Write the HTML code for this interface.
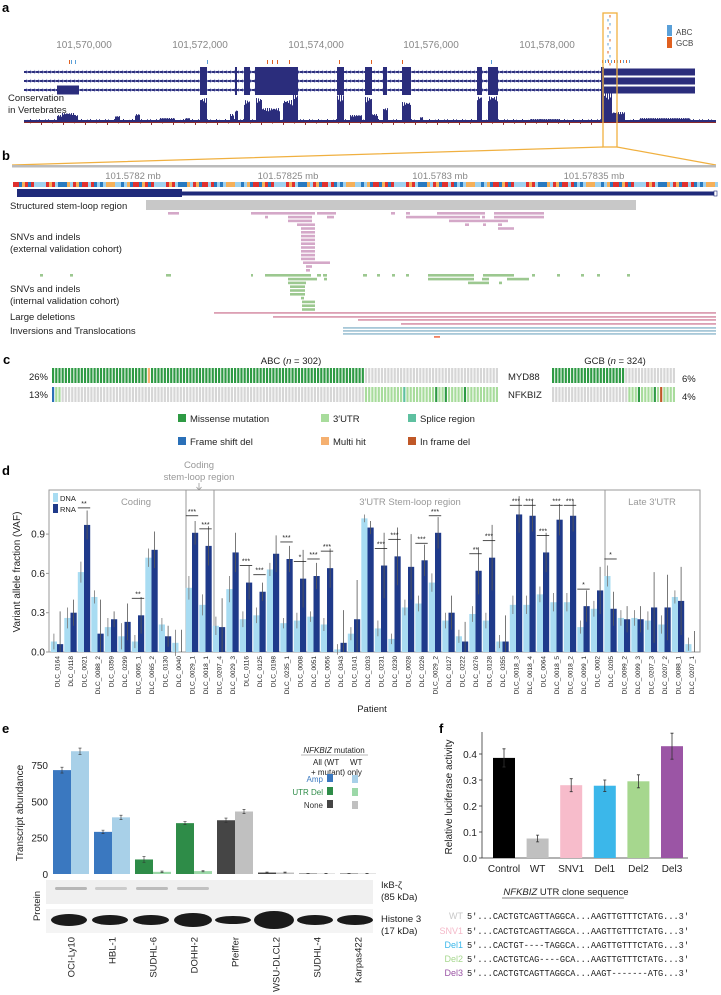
<!DOCTYPE html>
<html><head><meta charset="utf-8">
<style>
html,body{margin:0;padding:0;background:#fff;}
svg{display:block;font-family:"Liberation Sans",sans-serif;}
</style></head>
<body>
<svg id="fig" width="721" height="995" viewBox="0 0 721 995" xmlns="http://www.w3.org/2000/svg">
<text x="2" y="12" font-size="13" font-weight="bold">a</text>
<text x="2" y="160" font-size="13" font-weight="bold">b</text>
<text x="3" y="364" font-size="13" font-weight="bold">c</text>
<text x="2" y="475" font-size="13" font-weight="bold">d</text>
<text x="2" y="733" font-size="13" font-weight="bold">e</text>
<text x="439" y="733" font-size="13" font-weight="bold">f</text>

<g id="pa"></g>
<g id="pb"></g>
<g id="pc"></g>
<g id="pd"></g>
<g id="pe"></g>
<g id="pf"></g>
</svg>
<script>
// ===== Panel d data =====
const dPatients = ["DLC_0164","DLC_0118","DLC_0021","DLC_0088_2","DLC_0359","DLC_0299","DLC_0065_1","DLC_0065_2","DLC_0130","DLC_0040","DLC_0029_1","DLC_0018_1","DLC_0207_4","DLC_0029_3","DLC_0116","DLC_0125","DLC_0198","DLC_0235_1","DLC_0008","DLC_0051","DLC_0056","DLC_0343","DLC_0141","DLC_0203","DLC_0231","DLC_0230","DLC_0028","DLC_0226","DLC_0029_2","DLC_0127","DLC_0222","DLC_0276","DLC_0128","DLC_0355","DLC_0018_3","DLC_0018_4","DLC_0064","DLC_0018_5","DLC_0018_2","DLC_0099_1","DLC_0002","DLC_0205","DLC_0099_2","DLC_0099_3","DLC_0207_3","DLC_0207_2","DLC_0088_1","DLC_0207_1"];
const dDNA = [0.08,0.26,0.61,0.42,0.19,0.12,0.08,0.72,0.21,0.07,0.49,0.36,0.20,0.48,0.25,0.28,0.63,0.22,0.24,0.27,0.21,0.02,0.14,1.02,0.18,0.10,0.34,0.37,0.53,0.24,0.12,0.29,0.24,0.08,0.36,0.36,0.44,0.38,0.38,0.19,0.33,0.58,0.26,0.26,0.24,0.21,0.42,0.06];
const dRNA = [0.06,0.30,0.97,0.14,0.25,0.23,0.28,0.78,0.12,0.00,0.91,0.81,0.19,0.76,0.53,0.46,0.75,0.71,0.56,0.58,0.64,0.07,0.25,0.95,0.66,0.73,0.65,0.70,0.91,0.30,0.08,0.62,0.72,0.08,1.05,1.04,0.76,1.01,1.04,0.35,0.47,0.33,0.25,0.25,0.34,0.34,0.39,0.00];
const dDNAerr = [0.06,0.08,0.08,0.05,0.07,0.1,0.05,0.07,0.05,0.1,0.09,0.08,0.07,0.1,0.06,0.06,0.05,0.04,0.06,0.04,0.05,0.04,0.05,0.03,0.06,0.04,0.06,0.06,0.07,0.06,0.05,0.06,0.06,0.05,0.07,0.07,0.06,0.07,0.07,0.05,0.06,0.08,0.06,0.06,0.07,0.07,0.05,0.05];
const dRNAerr = [0.25,0.1,0.11,0.26,0.06,0.14,0.14,0.14,0.08,0.17,0.09,0.15,0.22,0.15,0.13,0.07,0.14,0.1,0.22,0.1,0.15,0.25,0.3,0.05,0.25,0.22,0.25,0.12,0.12,0.13,0.15,0.18,0.25,0.2,0.14,0.12,0.15,0.12,0.12,0.12,0.18,0.13,0.1,0.1,0.27,0.25,0.26,0.16];
const dSigIdx = [2,6,10,11,14,15,17,18,19,20,24,25,27,28,31,32,34,35,36,37,38,39,41];
const dSigLbl = ["**","**","***","***","***","***","***","*","***","***","***","***","***","***","**","***","***","***","***","***","***","*","*"];
const dTicks = [0,0.3,0.6,0.9];
// ===== Panel e data =====
const eLines = ["OCI-Ly10","HBL-1","SUDHL-6","DOHH-2","Pfeiffer","WSU-DLCL2","SUDHL-4","Karpas422"];
const eAll = [715,290,100,350,370,10,3,3];
const eWT = [845,390,15,20,430,10,3,3];
const eAllErr = [20,12,20,10,15,3,1,1];
const eWTErr = [22,15,5,5,15,3,1,1];
const eType = ["amp","amp","del","del","none","none","none","none"];
const eTicks = [0,250,500,750];
// ===== Panel f data =====
const fCats = ["Control","WT","SNV1","Del1","Del2","Del3"];
const fVals = [0.385,0.075,0.28,0.278,0.295,0.43];
const fErr = [0.035,0.013,0.025,0.022,0.025,0.05];
const fTicks = [0,0.1,0.2,0.3,0.4];
// ===== Panel c data =====
const cAbcN = 140, cGcbN = 39;
const cMydAbcMiss = 98, cMydAbcMulti = [30];
const cMydGcbMiss = 23;
const cNfkAbcUtrStart = 98, cNfkAbcMiss = [120,123,129], cNfkAbcSplice=[110], cNfkAbcFs=[0], cNfkAbcUtrLow=[1,2];
const cNfkGcbUtrStart = 24, cNfkGcbMiss=[27,32], cNfkGcbIfd=[34];

const NS="http://www.w3.org/2000/svg";
function mk(parent,tag,attrs,txt){const e=document.createElementNS(NS,tag);for(const k in attrs)e.setAttribute(k,attrs[k]);if(txt!==undefined)e.textContent=txt;parent.appendChild(e);return e;}

// ================= Panel A =================
(function(){
const g=document.getElementById('pa');
const tl=["101,570,000","101,572,000","101,574,000","101,576,000","101,578,000"];
const tx=[84,200,316,431,547];
tl.forEach((t,i)=>{const e=mk(g,'text',{x:tx[i],y:48,'font-size':10,fill:'#888','text-anchor':'middle'},t);

});
const ex=[[200,207],[235,237],[244,250],[255,298],[337,344],[365,372],[383,387],[402,411],[477,482],[488,498],[601,604]];
[72,81,90].forEach((y,t)=>{
 const ln=mk(g,'rect',{x:24,y:y-1,width:580,height:2,fill:'#2b2d7c'});
 
 
 for(let x=26;x<600;x+=4){mk(g,'path',{d:`M${x} ${y-2}l2 2l-2 2`,stroke:'#9aa0d0','stroke-width':0.6,fill:'none'});}
 ex.forEach(e=>{const r=mk(g,'rect',{x:e[0],y:y-5,width:e[1]-e[0],height:10,fill:'#2b2d7c'});
 
 });
 mk(g,'rect',{x:604,y:y-3.5,width:91,height:7,fill:'#2b2d7c'});
 if(t===2) mk(g,'rect',{x:57,y:y-4.5,width:22,height:9,fill:'#2b2d7c'});
});
[[69,'#e06020'],[71,'#5aa0d8'],[75,'#5aa0d8'],[207,'#5aa0d8'],[267,'#e06020'],[272,'#e06020'],[277,'#e06020'],[289,'#e06020'],[339,'#e06020'],[371,'#e06020'],[402,'#e06020'],[491,'#5aa0d8']].forEach(m=>mk(g,'rect',{x:m[0],y:60,width:1,height:4,fill:m[1]}));
for(let y=15;y<64;y+=4){mk(g,'rect',{x:606+(y%8)/2,y:y,width:1,height:2.5,fill:(y%12<4)?'#e06020':'#5aa0d8'});}
for(let x=602;x<630;x+=3){mk(g,'rect',{x:x,y:60,width:1,height:3,fill:x%2?'#5aa0d8':'#e06020'});}
let r=mk(g,'rect',{x:667,y:25,width:5,height:11,fill:'#5aa0d8'});

mk(g,'text',{x:676,y:35,'font-size':8,fill:'#444'},'ABC');
r=mk(g,'rect',{x:667,y:37,width:5,height:11,fill:'#e06020'});

mk(g,'text',{x:676,y:46,'font-size':8,fill:'#444'},'GCB');
let t=mk(g,'text',{x:8,y:101,'font-size':9.5,fill:'#222'},'Conservation');

mk(g,'text',{x:8,y:113,'font-size':9.5,fill:'#222'},'in Vertebrates');
const peaks=[[57,78,7],[62,75,9],[185,190,4],[200,207,24],[235,238,12],[244,250,22],[256,262,24],[262,280,14],[283,293,22],[293,298,28],[337,344,27],[350,362,7],[365,372,25],[372,378,8],[383,388,14],[402,411,20],[420,423,5],[477,482,26],[488,498,26],[601,612,30],[612,625,10],[115,120,6],[135,140,8],[160,175,4],[230,234,8],[530,560,3],[640,690,4]];
mk(g,'rect',{x:24,y:120,width:692,height:2,fill:'#2b2d7c'});
mk(g,'rect',{x:24,y:122,width:692,height:1,fill:'#8b2a2a'});
peaks.forEach(p=>{for(let x=p[0];x<p[1];x+=1){const h=p[2]*(0.75+0.25*Math.abs(Math.sin(x*1.7)));
 mk(g,'rect',{x:x,y:122-h,width:1,height:h,fill:'#2b2d7c'});}});
for(let x=24;x<716;x+=3){const h=1+2*Math.abs(Math.sin(x*0.37));mk(g,'rect',{x:x,y:122-h,width:1,height:h,fill:'#2b2d7c'});}
for(let x=30;x<600;x+=11){mk(g,'rect',{x:x,y:122,width:1,height:1+2*Math.abs(Math.cos(x)),fill:'#8b2a2a'});}
r=mk(g,'rect',{x:603,y:13,width:14,height:134,fill:'none',stroke:'#f0b040','stroke-width':1.3});

mk(g,'path',{d:'M603 147L12 165M617 147L716 165',stroke:'#f0b040','stroke-width':1.2,fill:'none'});
})();

// ================= Panel B =================
(function(){
const g=document.getElementById('pb');
mk(g,'rect',{x:12,y:165,width:704,height:2.5,fill:'#bbb'});
const tl=["101.5782 mb","101.57825 mb","101.5783 mb","101.57835 mb"],tx=[133,288,440,594];
tl.forEach((t,i)=>{const e=mk(g,'text',{x:tx[i],y:179,'font-size':9.5,fill:'#888','text-anchor':'middle'},t);
});
const cols=['#e0312f','#2a7ac0','#f5b05a','#9fd2ef'];
for(let i=0;i<235;i++){const c=cols[(i*7+((i*i)>>2)+(i%5))%4];mk(g,'rect',{x:13+i*3,y:182,width:3,height:5,fill:c});}
mk(g,'rect',{x:17,y:189,width:165,height:8,fill:'#1f2a7a'});
mk(g,'rect',{x:182,y:191.5,width:532,height:4,fill:'#1f2a7a'});
mk(g,'rect',{x:714,y:191,width:3,height:5,fill:'#fff',stroke:'#1f2a7a','stroke-width':0.6});
let t=mk(g,'text',{x:10,y:209,'font-size':9.5,fill:'#222'},'Structured stem-loop region');

let r=mk(g,'rect',{x:146,y:200,width:490,height:10,fill:'#c8c8c8'});

const pink=[[168,179,0],[251,315,0],[317,336,0],[391,395,0],[406,410,0],[437,485,0],[494,544,0],[265,268,1],[288,312,1],[327,334,1],[406,480,1],[482,485,1],[494,544,1],[288,312,2],[449,508,2],[297,315,3],[465,469,3],[483,486,3],[498,502,3],[301,315,4],[498,514,4],[301,315,5],[301,315,6],[301,315,7],[301,315,8],[301,315,9],[301,315,10],[301,315,11],[301,315,12],[303,330,13],[306,312,14],[306,310,15]];
pink.forEach(p=>{const e=mk(g,'rect',{x:p[0],y:212+p[2]*3.8,width:p[1]-p[0],height:2.6,fill:'#d4a8c8'});
});
const green=[[40,43,0],[70,73,0],[166,171,0],[251,253,0],[265,311,0],[317,321,0],[323,327,0],[363,367,0],[377,380,0],[392,395,0],[406,409,0],[428,474,0],[483,514,0],[532,535,0],[557,560,0],[581,584,0],[597,600,0],[627,630,0],[288,317,1],[324,327,1],[428,474,1],[482,489,1],[507,529,1],[288,306,2],[468,489,2],[499,502,2],[290,305,3],[290,305,4],[290,305,5],[301,304,6],[302,315,7],[302,315,8],[302,315,9]];
green.forEach(p=>{const e=mk(g,'rect',{x:p[0],y:274+p[2]*3.8,width:p[1]-p[0],height:2.6,fill:'#9cc890'});
});
[['SNVs and indels',240],['(external validation cohort)',252],['SNVs and indels',292],['(internal validation cohort)',304],['Large deletions',320],['Inversions and Translocations',334]].forEach(l=>{
 const e=mk(g,'text',{x:10,y:l[1],'font-size':9.5,fill:'#222'},l[0]);
 });
[[214,312],[273,316],[358,319],[401,323]].forEach(d=>{const e=mk(g,'rect',{x:d[0],y:d[1],width:716-d[0],height:1.8,fill:'#dca0b4'});
});
[[343,327],[343,330],[343,333]].forEach(d=>{const e=mk(g,'rect',{x:d[0],y:d[1],width:716-d[0],height:1.8,fill:'#a8c8d8'});
});
mk(g,'rect',{x:434,y:336,width:6,height:1.8,fill:'#f08060'});
})();

// ================= Panel C =================
(function(){
const g=document.getElementById('pc');
const gray='#d6d6d6',miss='#2e9a44',utr='#a8dc9c',spl='#5ec0a0',fs='#2a70b8',mh='#f5b070',ifd='#c05828';
let t=mk(g,'text',{x:291,y:364,'font-size':9.5,fill:'#222','text-anchor':'middle'});
t.innerHTML='ABC (<tspan font-style="italic">n</tspan> = 302)';

t=mk(g,'text',{x:615,y:364,'font-size':9.5,fill:'#222','text-anchor':'middle'});
t.innerHTML='GCB (<tspan font-style="italic">n</tspan> = 324)';

function row(x0,w,n,y,h,colorFn){const s=w/n;for(let i=0;i<n;i++){mk(g,'rect',{x:x0+i*s,y:y,width:Math.max(s-1,1),height:h,fill:colorFn(i)});}}
row(52,447,cAbcN,368,15,i=>cMydAbcMulti.includes(i)?mh:(i<cMydAbcMiss?miss:gray));
row(552,124,cGcbN,368,15,i=>i<cMydGcbMiss?miss:gray);
row(52,447,cAbcN,387,15,i=>cNfkAbcFs.includes(i)?fs:cNfkAbcMiss.includes(i)?miss:cNfkAbcSplice.includes(i)?spl:(cNfkAbcUtrLow.includes(i)||i>=cNfkAbcUtrStart)?utr:gray);
row(552,124,cGcbN,387,15,i=>cNfkGcbMiss.includes(i)?miss:cNfkGcbIfd.includes(i)?ifd:i>=cNfkGcbUtrStart?utr:gray);
[['26%',48,380,'end'],['13%',48,398,'end'],['MYD88',508,380,'start'],['NFKBIZ',508,398,'start'],['6%',682,382,'start'],['4%',682,400,'start']].forEach(l=>{
 const e=mk(g,'text',{x:l[1],y:l[2],'font-size':9.5,fill:'#222','text-anchor':l[3]},l[0]);
 });
[['Missense mutation',178,414,miss],['3′UTR',321,414,utr],['Splice region',408,414,spl],['Frame shift del',178,437,fs],['Multi hit',321,437,mh],['In frame del',408,437,ifd]].forEach(l=>{
 const r=mk(g,'rect',{x:l[1],y:l[2],width:8,height:8,fill:l[3]});
 
 const e=mk(g,'text',{x:l[1]+12,y:l[2]+8,'font-size':9.5,fill:'#222'},l[0]);
 });
})();

// ================= Panel D =================
(function(){
const g=document.getElementById('pd');
const y0=652, pxPer=131, x0=57, step=13.5, bw=6.2;
const Y=v=>y0-v*pxPer, X=i=>x0+i*step;
mk(g,'rect',{x:49,y:490,width:651,height:162,fill:'none',stroke:'#999','stroke-width':1});
[186,214,605].forEach(x=>mk(g,'line',{x1:x,y1:490,x2:x,y2:652,stroke:'#999','stroke-width':1}));
const lab=[['Coding',136,505],['3′UTR Stem-loop region',410,505],['Late 3′UTR',652,505]];
lab.forEach(l=>{const e=mk(g,'text',{x:l[1],y:l[2],'font-size':9.5,fill:'#999','text-anchor':'middle'},l[0]);
});
let t=mk(g,'text',{x:199,y:468,'font-size':9.5,fill:'#999','text-anchor':'middle'},'Coding');

mk(g,'text',{x:199,y:480,'font-size':9.5,fill:'#999','text-anchor':'middle'},'stem-loop region');
mk(g,'path',{d:'M199 483V490M196.5 487L199 490L201.5 487',stroke:'#999','stroke-width':0.8,fill:'none'});
dTicks.forEach(v=>{const e=mk(g,'text',{x:45,y:Y(v)+3.5,'font-size':10,fill:'#222','text-anchor':'end'},v.toFixed(1));

mk(g,'line',{x1:46,y1:Y(v),x2:49,y2:Y(v),stroke:'#999'});});
t=mk(g,'text',{x:0,y:0,'font-size':10,fill:'#222','text-anchor':'middle',transform:'translate(20,572) rotate(-90)'},'Variant allele fraction (VAF)');

dPatients.forEach((p,i)=>{
 const cx=X(i);
 const v1=Math.max(0,dDNA[i]), v2=Math.max(0,dRNA[i]);
 let b=mk(g,'rect',{x:cx-bw,y:Y(v1),width:bw,height:v1*pxPer,fill:'#a8dcf2'});
 
 b=mk(g,'rect',{x:cx,y:Y(v2),width:bw,height:v2*pxPer,fill:'#1f3a8a'});
 
 mk(g,'line',{x1:cx-bw/2,y1:Y(v1-dDNAerr[i]),x2:cx-bw/2,y2:Y(v1+dDNAerr[i]),stroke:'#777','stroke-width':0.8});
 mk(g,'line',{x1:cx+bw/2,y1:Y(Math.max(0,v2-dRNAerr[i])),x2:cx+bw/2,y2:Y(v2+dRNAerr[i]),stroke:'#555','stroke-width':0.8});
 const e=mk(g,'text',{x:0,y:0,'font-size':6.5,fill:'#222','text-anchor':'end',transform:`translate(${cx+2.3},656) rotate(-90)`},p);
 
});
dSigIdx.forEach((i,k)=>{
 const top=Math.min(Math.max(dDNA[i],dRNA[i])+0.13,1.12);
 const cx=X(i);
 const br=mk(g,'line',{x1:cx-bw,y1:Y(top),x2:cx+bw,y2:Y(top),stroke:'#222','stroke-width':0.8});
 
 mk(g,'text',{x:cx,y:Y(top)-2,'font-size':7,fill:'#222','text-anchor':'middle'},dSigLbl[k]);
});
let r=mk(g,'rect',{x:53,y:493,width:5,height:9,fill:'#a8dcf2'});

mk(g,'text',{x:60,y:501,'font-size':7.5,fill:'#222'},'DNA');
r=mk(g,'rect',{x:53,y:504,width:5,height:9,fill:'#1f3a8a'});

mk(g,'text',{x:60,y:512,'font-size':7.5,fill:'#222'},'RNA');
t=mk(g,'text',{x:372,y:712,'font-size':9.5,fill:'#222','text-anchor':'middle'},'Patient');

})();

// ================= Panel E =================
(function(){
const g=document.getElementById('pe');
const y0=874, pxPer=0.1453, gx0=53, gstep=41, bw=18;
const Y=v=>y0-v*pxPer;
const colAll={amp:'#3a78c0',del:'#2e8c48',none:'#454545'}, colWT={amp:'#a8d0e8',del:'#9cd8a8',none:'#c0c0c0'};
eTicks.forEach(v=>{const e=mk(g,'text',{x:48,y:Y(v)+4,'font-size':10,fill:'#222','text-anchor':'end'},String(v));
});
let t=mk(g,'text',{x:0,y:0,'font-size':10,fill:'#222','text-anchor':'middle',transform:'translate(23,813) rotate(-90)'},'Transcript abundance');

eLines.forEach((c,i)=>{
 const x=gx0+i*gstep;
 let b=mk(g,'rect',{x:x,y:Y(eAll[i]),width:bw,height:eAll[i]*pxPer,fill:colAll[eType[i]]});
 
 b=mk(g,'rect',{x:x+bw,y:Y(eWT[i]),width:bw,height:eWT[i]*pxPer,fill:colWT[eType[i]]});
 
 [[x+bw/2,eAll[i],eAllErr[i]],[x+bw*1.5,eWT[i],eWTErr[i]]].forEach(q=>{
  mk(g,'path',{d:`M${q[0]} ${Y(q[1]-q[2])}V${Y(q[1]+q[2])}M${q[0]-1.5} ${Y(q[1]-q[2])}h3M${q[0]-1.5} ${Y(q[1]+q[2])}h3`,stroke:'#333','stroke-width':0.6,fill:'none'});});
 const e=mk(g,'text',{x:0,y:0,'font-size':9.5,fill:'#222','text-anchor':'end',transform:`translate(${x+bw+3.5},937) rotate(-90)`},c);
 
});
let r=mk(g,'rect',{x:46,y:880,width:327,height:24,fill:'#f0f0f0'});

[[55,0.55],[95,0.35],[136,0.5],[177,0.45]].forEach(b=>mk(g,'rect',{x:b[0],y:887,width:32,height:3,rx:1.5,fill:'#888','opacity':b[1]}));
r=mk(g,'rect',{x:46,y:909,width:327,height:24,fill:'#f4f4f4'});

[[51,36,6],[92,36,5],[133,36,5],[174,38,7],[215,36,4],[254,40,9],[297,36,5],[337,36,5]].forEach(b=>mk(g,'ellipse',{cx:b[0]+b[1]/2,cy:920,rx:b[1]/2,ry:b[2],fill:'#1a1a1a'}));
t=mk(g,'text',{x:0,y:0,'font-size':9.5,fill:'#222','text-anchor':'middle',transform:'translate(40,906) rotate(-90)'},'Protein');

[['IκB-ζ',381,888],['(85 kDa)',381,900],['Histone 3',381,922],['(17 kDa)',381,934]].forEach(l=>{
 const e=mk(g,'text',{x:l[1],y:l[2],'font-size':9.5,fill:'#222'},l[0]);
 });
t=mk(g,'text',{x:334,y:753,'font-size':8,fill:'#222','text-anchor':'middle'});
t.innerHTML='<tspan font-style="italic">NFKBIZ</tspan> mutation';

mk(g,'line',{x1:301,y1:755,x2:368,y2:755,stroke:'#777','stroke-width':0.6});
mk(g,'text',{x:313,y:765,'font-size':8,fill:'#222'},'All (WT');
mk(g,'text',{x:350,y:765,'font-size':8,fill:'#222'},'WT');
mk(g,'text',{x:311,y:775,'font-size':8,fill:'#222'},'+ mutant) only');
[['Amp','amp',782],['UTR Del','del',795],['None','none',808]].forEach(l=>{
 const e=mk(g,'text',{x:323,y:l[2],'font-size':8,fill:l[1]==='none'?'#333':colAll[l[1]],'text-anchor':'end'},l[0]);
 
 let s=mk(g,'rect',{x:327,y:l[2]-8,width:6,height:8,fill:colAll[l[1]]});
 
 s=mk(g,'rect',{x:352,y:l[2]-7,width:6,height:8,fill:colWT[l[1]]});
 
});
})();

// ================= Panel F =================
(function(){
const g=document.getElementById('pf');
const y0=858, pxPer=260, x0=493, step=33.6, bw=22;
const Y=v=>y0-v*pxPer;
const cols=['#000000','#c0c0c0','#f7bccb','#3bb7ea','#a6d78e','#9b55a5'];
mk(g,'line',{x1:482,y1:732,x2:482,y2:858,stroke:'#333','stroke-width':0.8});
mk(g,'line',{x1:482,y1:858,x2:688,y2:858,stroke:'#333','stroke-width':0.8});
fTicks.forEach(v=>{const e=mk(g,'text',{x:477,y:Y(v)+4,'font-size':10,fill:'#222','text-anchor':'end'},v.toFixed(1));

mk(g,'line',{x1:479,y1:Y(v),x2:482,y2:Y(v),stroke:'#333','stroke-width':0.8});});
let t=mk(g,'text',{x:0,y:0,'font-size':10,fill:'#222','text-anchor':'middle',transform:'translate(452,797) rotate(-90)'},'Relative luciferase activity');

fCats.forEach((c,i)=>{
 const x=x0+i*step, v=fVals[i];
 const b=mk(g,'rect',{x:x,y:Y(v),width:bw,height:v*pxPer,fill:cols[i]});
 
 const cx=x+bw/2;
 mk(g,'path',{d:`M${cx} ${Y(v-fErr[i])}V${Y(v+fErr[i])}M${cx-1.5} ${Y(v-fErr[i])}h3M${cx-1.5} ${Y(v+fErr[i])}h3`,stroke:'#333','stroke-width':0.8,fill:'none'});
 const e=mk(g,'text',{x:cx,y:872,'font-size':10,fill:'#222','text-anchor':'middle'},c);
 
});
t=mk(g,'text',{x:566,y:895,'font-size':9.5,fill:'#222','text-anchor':'middle'});
t.innerHTML='<tspan font-style="italic">NFKBIZ</tspan> UTR clone sequence';

mk(g,'line',{x1:502,y1:898,x2:624,y2:898,stroke:'#555','stroke-width':0.7});
const rows=[['WT','#c8c8c8',['CACTGTCAGTTAGGCA','AAGTTGTTTCTATG'],919],
 ['SNV1','#f4b8c8',['CACTGTCAGTTAGGCA','AAGTTGTTTCTATG'],934],
 ['Del1','#3bb7ea',['CACTGT----TAGGCA','AAGTTGTTTCTATG'],948],
 ['Del2','#a6d78e',['CACTGTCAG----GCA','AAGTTGTTTCTATG'],962],
 ['Del3','#9b55a5',['CACTGTCAGTTAGGCA','AAGT-------ATG'],976]];
rows.forEach(rw=>{
 const l=mk(g,'text',{x:463,y:rw[3],'font-size':9,fill:rw[1],'text-anchor':'end'},rw[0]);
 
 const s=mk(g,'text',{x:467,y:rw[3],'font-size':9,fill:'#222','font-family':'Liberation Mono, monospace',textLength:222,lengthAdjust:'spacingAndGlyphs'},"5′..."+rw[2][0]+"..."+rw[2][1]+"...3′");
 
});
})();
</script>
</body></html>
